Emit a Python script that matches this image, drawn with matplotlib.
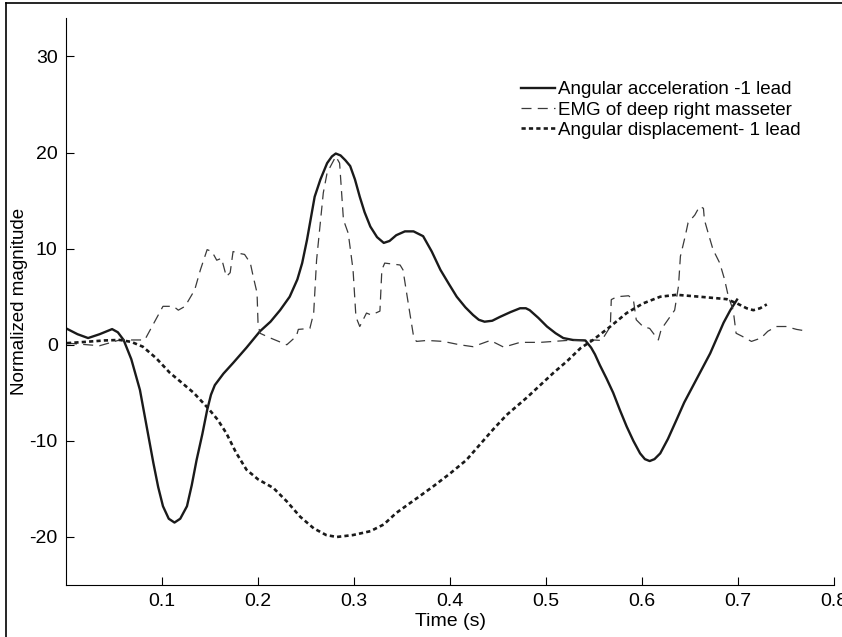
import matplotlib
matplotlib.use("Agg")
from matplotlib import pyplot as plt
from matplotlib.lines import Line2D

plt.rcParams['font.family'] = ['Liberation Sans', 'DejaVu Sans']
plt.rcParams['axes.unicode_minus'] = False

# angular acceleration -1 lead (solid)
acc_t = [0.001, 0.012, 0.023, 0.035, 0.048, 0.054, 0.060, 0.068, 0.077, 0.084,
         0.091, 0.096, 0.101, 0.107, 0.113, 0.119, 0.126, 0.131, 0.136, 0.142,
         0.147, 0.151, 0.155, 0.164, 0.174, 0.188, 0.202, 0.213, 0.223, 0.233,
         0.241, 0.246, 0.251, 0.259, 0.265, 0.272, 0.277, 0.281, 0.286, 0.291,
         0.296, 0.301, 0.306, 0.311, 0.317, 0.324, 0.331, 0.337, 0.344, 0.353,
         0.362, 0.372, 0.381, 0.390, 0.399, 0.407, 0.416, 0.424, 0.430, 0.436,
         0.444, 0.452, 0.463, 0.473, 0.479, 0.483, 0.492, 0.501, 0.510, 0.518,
         0.528, 0.541, 0.547, 0.551, 0.556, 0.563, 0.570, 0.577, 0.584, 0.591,
         0.598, 0.603, 0.608, 0.613, 0.619, 0.627, 0.636, 0.644, 0.653, 0.662,
         0.671, 0.678, 0.685, 0.692, 0.699]
acc_v = [1.66, 1.1, 0.7, 1.1, 1.63, 1.3, 0.5, -1.5, -4.7, -8.5,
         -12.3, -14.8, -16.8, -18.1, -18.5, -18.1, -16.8, -14.6, -12.0, -9.3,
         -6.8, -5.2, -4.2, -3.0, -1.9, -0.3, 1.4, 2.4, 3.6, 5.0,
         6.8, 8.5, 10.9, 15.4, 17.2, 18.9, 19.6, 19.9, 19.7, 19.2,
         18.6, 17.2, 15.4, 13.8, 12.3, 11.2, 10.6, 10.8, 11.4, 11.8,
         11.8, 11.3, 9.7, 7.8, 6.3, 5.0, 3.9, 3.1, 2.6, 2.4,
         2.5, 2.9, 3.4, 3.8, 3.8, 3.6, 2.8, 1.9, 1.2, 0.7,
         0.5, 0.45, -0.3, -1.0, -2.1, -3.5, -5.0, -6.8, -8.5, -10.0,
         -11.3, -11.9, -12.1, -11.9, -11.3, -9.8, -7.8, -6.0, -4.3, -2.6,
         -0.9, 0.7, 2.3, 3.6, 4.7]

# EMG of deep right masseter (dashed)
emg_t = [0.001, 0.035, 0.056, 0.082, 0.101, 0.112, 0.117, 0.124, 0.134, 0.140,
         0.147, 0.152, 0.157, 0.162, 0.167, 0.171, 0.174, 0.181, 0.186, 0.192,
         0.195, 0.199, 0.200, 0.202, 0.213, 0.230, 0.240, 0.242, 0.254, 0.258,
         0.261, 0.268, 0.272, 0.281, 0.285, 0.289, 0.294, 0.299, 0.302, 0.306,
         0.313, 0.318, 0.327, 0.329, 0.332, 0.348, 0.351, 0.357, 0.362, 0.365,
         0.376, 0.393, 0.410, 0.424, 0.442, 0.456, 0.473, 0.494, 0.522, 0.539,
         0.549, 0.558, 0.567, 0.568, 0.574, 0.586, 0.591, 0.594, 0.601, 0.608,
         0.617, 0.620, 0.627, 0.634, 0.638, 0.640, 0.645, 0.648, 0.655, 0.660,
         0.664, 0.665, 0.669, 0.674, 0.681, 0.686, 0.690, 0.695, 0.698, 0.704,
         0.714, 0.724, 0.731, 0.740, 0.750, 0.761, 0.767]
emg_v = [0.17, -0.1, 0.5, 0.5, 4.0, 4.0, 3.6, 4.0, 5.7, 7.8,
         9.9, 9.7, 8.8, 9.0, 7.1, 7.5, 9.7, 9.5, 9.4, 8.5,
         7.1, 5.4, 2.3, 1.2, 0.7, 0.0, 0.9, 1.6, 1.7, 3.3,
         8.8, 15.8, 17.9, 19.6, 18.9, 13.0, 11.6, 7.8, 2.9, 1.9,
         3.3, 3.1, 3.5, 7.8, 8.5, 8.3, 7.8, 4.0, 0.9, 0.35,
         0.45, 0.35, 0.0, -0.2, 0.45, -0.25, 0.25, 0.25, 0.45, 0.5,
         0.5, 0.45, 1.9, 4.7, 5.0, 5.1, 4.7, 2.6, 1.9, 1.7,
         0.5, 1.6, 2.6, 3.6, 6.1, 9.2, 11.3, 12.7, 13.5, 14.4,
         14.2, 13.0, 11.6, 9.9, 8.5, 6.8, 5.0, 3.6, 1.2, 0.9,
         0.35, 0.7, 1.4, 1.9, 1.9, 1.6, 1.5]

# angular displacement - 1 lead (dotted)
disp_t = [0.001, 0.020, 0.040, 0.056, 0.068, 0.080, 0.094, 0.108, 0.120, 0.133,
          0.148, 0.158, 0.167, 0.177, 0.188, 0.200, 0.216, 0.230, 0.244, 0.258,
          0.271, 0.282, 0.299, 0.317, 0.331, 0.344, 0.365, 0.383, 0.400, 0.417,
          0.431, 0.445, 0.459, 0.480, 0.494, 0.508, 0.522, 0.536, 0.549, 0.567,
          0.584, 0.601, 0.619, 0.636, 0.660, 0.688, 0.699, 0.709, 0.716, 0.723,
          0.730]
disp_v = [0.17, 0.3, 0.45, 0.5, 0.3, -0.2, -1.4, -2.9, -3.9, -5.0,
          -6.6, -7.8, -9.2, -11.2, -13.0, -14.0, -14.9, -16.3, -17.9, -19.1,
          -19.8, -20.0, -19.8, -19.4, -18.7, -17.5, -16.0, -14.7, -13.4, -12.0,
          -10.4, -8.8, -7.3, -5.5, -4.2, -2.9, -1.7, -0.35, 0.5, 1.9,
          3.3, 4.3, 5.0, 5.2, 5.0, 4.75, 4.3, 3.8, 3.6, 3.8,
          4.2]

x_ticks = [0.1, 0.2, 0.3, 0.4, 0.5, 0.6, 0.7, 0.8]
y_ticks = [-20, -10, 0, 10, 20, 30]

fig = plt.figure(figsize=(8.42, 6.37), dpi=100)
ax = fig.add_axes([0.0784, 0.0816, 0.9121, 0.8901])

ax.plot(acc_t, acc_v, color='#1a1a1a', lw=1.7, label='Angular acceleration -1 lead')
ax.plot(emg_t, emg_v, color='#3a3a3a', lw=0.9, dashes=(8, 5),
        label='EMG of deep right masseter')
ax.plot(disp_t, disp_v, color='#1a1a1a', lw=1.9, dashes=(1.6, 1.2),
        label='Angular displacement- 1 lead')

ax.set_xlim(0, 0.8)
ax.set_ylim(-25, 34)
ax.set_xticks(x_ticks)
ax.set_xticklabels([str(v) for v in x_ticks])
ax.set_yticks(y_ticks)
ax.tick_params(direction='in', length=6, width=0.8, labelsize=14, pad=6)
ax.spines['top'].set_visible(False)
ax.spines['right'].set_visible(False)
ax.set_xlabel('Time (s)', fontsize=14, labelpad=2)
ax.set_ylabel('Normalized magnitude', fontsize=13.5, labelpad=1)

ax.legend(loc='upper left', bbox_to_anchor=(0.58, 0.905), frameon=False,
          fontsize=13.5, handlelength=1.8, handletextpad=0.2, labelspacing=0.17,
          borderpad=0)

# figure border
fig.add_artist(Line2D([6 / 842, 6 / 842], [0, 1 - 3 / 637], color='black', lw=1.2))
fig.add_artist(Line2D([6 / 842, 1], [1 - 3 / 637, 1 - 3 / 637], color='black', lw=1.2))

fig.savefig('out.png', dpi=100)
